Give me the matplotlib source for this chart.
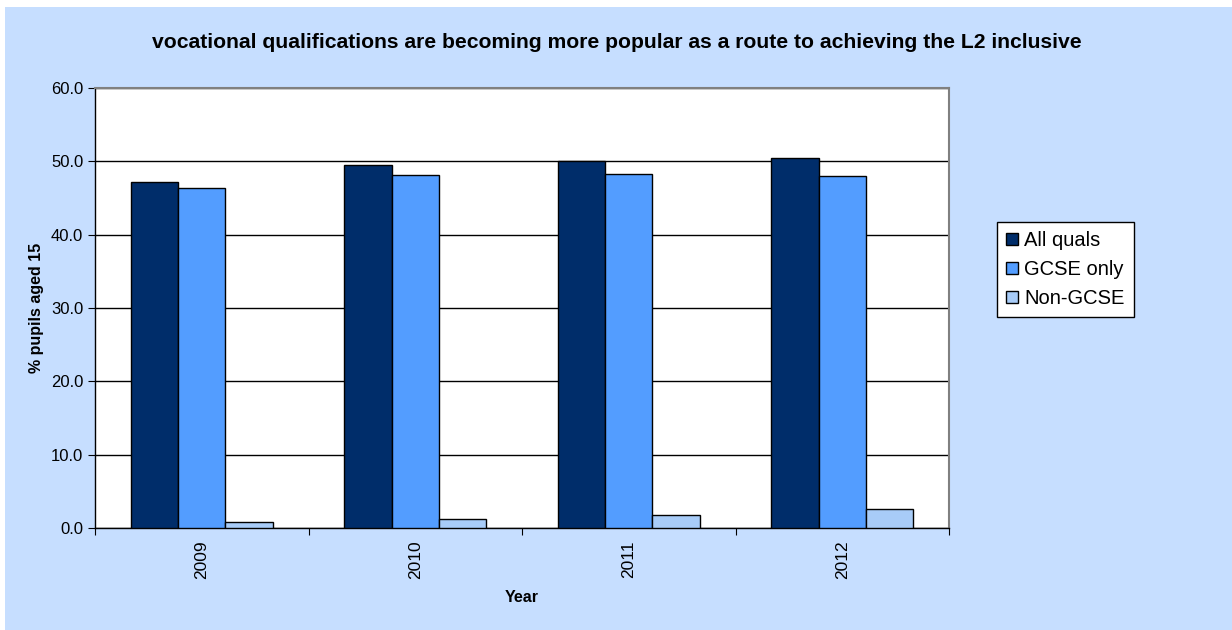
import matplotlib
matplotlib.use('Agg')
import matplotlib.pyplot as plt
import numpy as np
from matplotlib.patches import Rectangle

plt.rcParams['font.family'] = ['Liberation Sans', 'DejaVu Sans']

years = ['2009', '2010', '2011', '2012']
all_quals = [47.2, 49.5, 50.1, 50.5]
gcse_only = [46.4, 48.2, 48.3, 48.0]
non_gcse = [0.8, 1.2, 1.8, 2.6]

series = [('All quals', all_quals, '#002D6A'),
          ('GCSE only', gcse_only, '#539DFF'),
          ('Non-GCSE', non_gcse, '#A8CCF8')]

bg = '#C6DEFF'

fig = plt.figure(figsize=(12.32, 6.3), dpi=100)
fig.patches.append(Rectangle((5 / 1232, 0), 1, 623 / 630, transform=fig.transFigure,
                             facecolor=bg, edgecolor='none', zorder=-10))

ax = fig.add_axes([95 / 1232, 1 - 528 / 630, (949 - 95) / 1232, (528 - 88) / 630])
ax.set_facecolor('white')

x = np.arange(len(years))
w = 1 / 4.5
for i, (name, vals, col) in enumerate(series):
    ax.bar(x + (i - 1) * w, vals, w, color=col, edgecolor='black', lw=1, label=name, zorder=3)

ax.set_xlim(-0.5, len(years) - 0.5)
ax.set_ylim(0, 60)
ax.set_yticks(np.arange(0, 61, 10))
ax.set_yticklabels([f'{v:.1f}' for v in np.arange(0, 61, 10)], fontsize=12)
ax.yaxis.grid(True, color='black', lw=1, zorder=0)
ax.set_axisbelow(True)

# category ticks sit between groups, labels in the centre
ax.set_xticks(np.arange(-0.5, len(years), 1))
ax.set_xticklabels([])
ax.set_xticks(x, minor=True)
ax.set_xticklabels(years, minor=True, rotation=90, fontsize=12.5)
ax.tick_params(axis='x', which='minor', length=0, pad=9)
ax.tick_params(axis='x', which='major', length=5, direction='out')
ax.tick_params(axis='y', length=5, direction='out')

for s in ['top', 'right']:
    ax.spines[s].set_color('#808080')
    ax.spines[s].set_linewidth(1.5)
for s in ['left', 'bottom']:
    ax.spines[s].set_color('black')
    ax.spines[s].set_linewidth(1)

ax.set_ylabel('% pupils aged 15', fontsize=11.5, fontweight='bold', labelpad=5)
ax.set_xlabel('Year', fontsize=11.5, fontweight='bold', labelpad=8)

fig.text(617 / 1232, 1 - 43 / 630,
         'vocational qualifications are becoming more popular as a route to achieving the L2 inclusive',
         ha='center', va='center', fontsize=15.2, fontweight='bold')

leg = ax.legend(loc='upper left', bbox_to_anchor=(997 / 1232, 1 - 222 / 630),
                bbox_transform=fig.transFigure, fontsize=14.5, frameon=True, fancybox=False,
                framealpha=1, handlelength=0.6, handleheight=0.6, handletextpad=0.3,
                labelspacing=0.5, borderpad=0.45, borderaxespad=0)
leg.get_frame().set_edgecolor('black')
leg.get_frame().set_linewidth(1)

fig.savefig('out.png', dpi=100)
